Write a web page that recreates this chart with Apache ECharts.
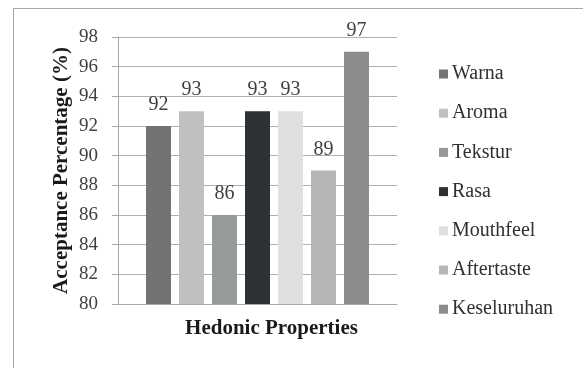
<!DOCTYPE html>
<html>
<head>
<meta charset="utf-8">
<script src="https://cdn.jsdelivr.net/npm/echarts@6/dist/echarts.min.js"></script>
<style>html,body{margin:0;padding:0;background:#fff;}#c{width:583px;height:368px;}</style>
</head>
<body>
<div id="c"></div>
<script>
const seriesNames = ['Warna', 'Aroma', 'Tekstur', 'Rasa', 'Mouthfeel', 'Aftertaste', 'Keseluruhan'];
const values = [92, 93, 86, 93, 93, 89, 97];
const colors = ['#727374', '#bfc0bf', '#979a9a', '#2d3133', '#dfe0df', '#b4b6b7', '#8b8c8d'];
const categories = [''];
const xTitle = 'Hedonic Properties';
const yTitle = 'Acceptance Percentage (%)';

const FONT = '"Liberation Serif", "Times New Roman", serif';
const chart = echarts.init(document.getElementById('c'), null, {renderer: 'canvas'});

const series = seriesNames.map((n, i) => ({
  name: n,
  type: 'bar',
  data: [values[i]],
  barWidth: 25,
  barGap: '32%',
  itemStyle: {color: colors[i]},
  label: {
    show: true, position: 'top', distance: 11,
    fontFamily: FONT, fontSize: 20, color: '#404040'
  }
}));

chart.setOption({
  animation: false,
  color: colors,
  graphic: [{
    type: 'rect', silent: true,
    shape: {x: 13.5, y: 8.5, width: 620, height: 420},
    style: {fill: null, stroke: '#a6a6a6', lineWidth: 1}
  }],
  grid: {left: 118, top: 37, right: 186, bottom: 64, containLabel: false},
  legend: {
    orient: 'vertical', left: 434, top: 59,
    itemWidth: 9, itemHeight: 9, itemGap: 19.2, icon: 'rect',
    textStyle: {fontFamily: FONT, fontSize: 20, color: '#303030', lineHeight: 20, padding: [0,0,0,-1]},
    data: seriesNames
  },
  xAxis: {
    type: 'category', data: categories,
    name: xTitle, nameLocation: 'middle', nameGap: 14,
    nameTextStyle: {fontFamily: FONT, fontSize: 21, fontWeight: 'bold', color: '#1a1a1a', padding: [0,0,0,28]},
    axisLine: {lineStyle: {color: '#a8a8a8'}},
    axisTick: {show: false},
    axisLabel: {show: false}
  },
  yAxis: {
    type: 'value', min: 80, max: 98, interval: 2,
    name: yTitle, nameLocation: 'middle', nameGap: 46,
    nameTextStyle: {fontFamily: FONT, fontSize: 21, fontWeight: 'bold', color: '#1a1a1a'},
    axisLine: {show: true, lineStyle: {color: '#a8a8a8'}},
    axisTick: {show: true, length: 6, lineStyle: {color: '#a8a8a8'}},
    axisLabel: {fontFamily: FONT, fontSize: 19, color: '#404040', margin: 20},
    splitLine: {lineStyle: {color: '#b0b0b0', width: 1}}
  },
  series: series
});
</script>
</body>
</html>
